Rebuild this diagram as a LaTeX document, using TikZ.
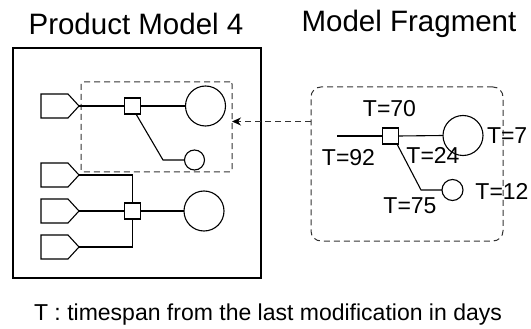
\documentclass[tikz,border=0pt]{standalone}
\usepackage{fontspec}
\setmainfont{Liberation Sans}
\usetikzlibrary{arrows.meta}
\begin{document}
\begin{tikzpicture}[x=1pt,y=-1pt,
  every node/.style={inner sep=0pt,outer sep=0pt},
  thin line/.style={line width=1.1pt},
  sq/.style={draw,thin line,minimum size=16pt},
  bigc/.style={draw,thin line,circle,minimum size=40pt},
  smallc/.style={draw,thin line,circle,minimum size=20pt},
  dashbox/.style={draw,line width=1pt,dash pattern=on 6pt off 4pt,color=black!80},
  title/.style={font=\fontsize{29.5}{31}\selectfont,anchor=base},
  tlabel/.style={font=\fontsize{23}{25}\selectfont,anchor=base},
  port/.style={draw,thin line}]
\useasboundingbox (0,0) rectangle (531,329);

% titles
\node[title] (t1) at (136,35) {Product Model 4};
\node[title] (t2) at (409,32) {Model Fragment};

% product model frame and selected region
\node[draw,line width=2pt,minimum width=248pt,minimum height=230pt] (pm) at (137,163) {};
\node[dashbox,rounded corners=2pt,minimum width=151pt,minimum height=90pt] (sel) at (156.5,127) {};

% input ports
\foreach \n/\y in {p1/106,p2/175,p3/211,p4/247}{
  \draw[port] (41,\y-12) -- (68,\y-12) -- (79,\y) -- (68,\y+12) -- (41,\y+12) -- cycle;
  \coordinate (\n) at (79,\y);
}

% upper assembly
\node[sq] (s1) at (132.5,106) {};
\node[bigc] (c1) at (205.5,106) {};
\node[smallc] (c2) at (194.5,160) {};
\coordinate (k1) at (163,160);
\draw[thin line] (p1) -- (s1.west);
\draw[thin line] (s1.east) -- (c1.west);
\draw[thin line] ([xshift=3.5pt]s1.south) -- (k1) -- (c2.west);

% lower assembly
\node[sq] (s2) at (132.5,211) {};
\node[bigc] (c3) at (204,211) {};
\draw[thin line] (p2) -| (s2.north);
\draw[thin line] (p3) -- (s2.west);
\draw[thin line] (p4) -| (s2.south);
\draw[thin line] (s2.east) -- (c3.west);

% model fragment
\node[dashbox,rounded corners=10pt,minimum width=192pt,minimum height=154pt] (frag) at (407,164) {};
\coordinate (f0) at (337,136);
\node[sq] (fs) at (390.5,136) {};
\node[bigc] (fc1) at (463,135.5) {};
\node[smallc,minimum size=21pt] (fc2) at (452.5,190) {};
\coordinate (k2) at (421,190);
\draw[thin line] (f0) -- (fs.west);
\draw[thin line] (fs.east) -- (fc1.west);
\draw[thin line] ([xshift=6.5pt]fs.south) -- (k2) -- (fc2.west);

\node[tlabel] (l70) at (389.5,117) {T=70};
\node[tlabel] (l92) at (348.5,165) {T=92};
\node[tlabel] (l24) at (433,164) {T=24};
\node[tlabel,anchor=base west] (l7) at (487,143) {T=7};
\node[tlabel] (l12) at (502,199) {T=12};
\node[tlabel] (l75) at (410,214) {T=75};

% fragment origin arrow
\coordinate (ah) at ([yshift=5.5pt]sel.east);
\draw[line width=1pt,dash pattern=on 6pt off 4pt,color=black!80,
  -{Stealth[length=9pt,width=8pt,inset=3pt,color=black]}] (frag.west |- ah) -- (ah);

% legend
\node[tlabel] (leg) at (268,320) {T : timespan from the last modification in days};
\end{tikzpicture}
\end{document}
